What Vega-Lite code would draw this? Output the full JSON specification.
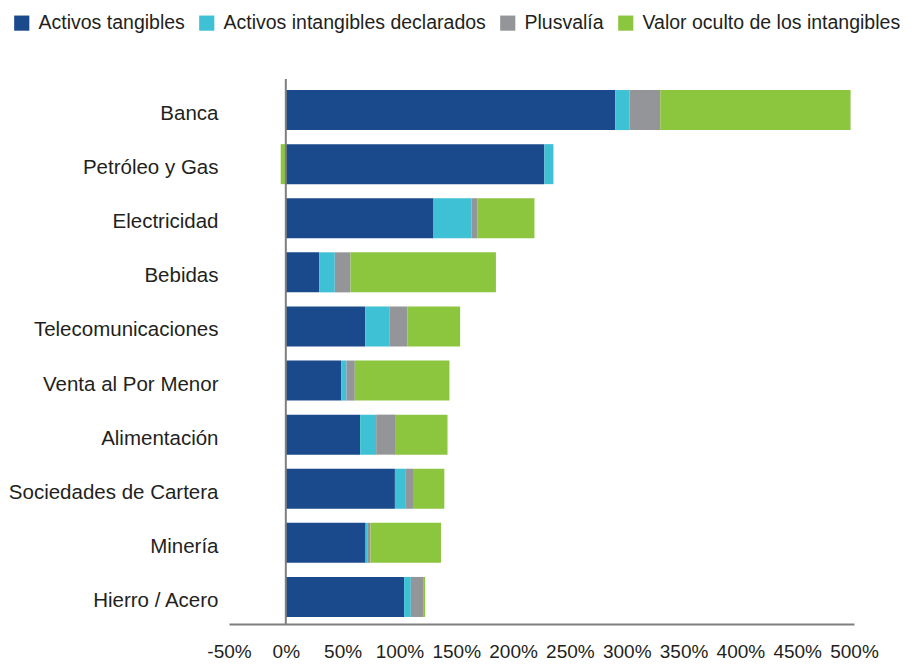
{
  "$schema": "https://vega.github.io/schema/vega-lite/v6.json",
  "width": 625,
  "height": 541,
  "autosize": "none",
  "padding": {"left": 229, "top": 83, "right": 62, "bottom": 40},
  "background": "white",
  "config": {
    "font": "Liberation Sans",
    "view": {"stroke": null}
  },
  "datasets": {
    "rows": [
      {"sector": "Banca", "tipo": "Activos tangibles", "k": 1, "v": 290},
      {"sector": "Banca", "tipo": "Activos intangibles declarados", "k": 2, "v": 12.5},
      {"sector": "Banca", "tipo": "Plusvalía", "k": 3, "v": 27},
      {"sector": "Banca", "tipo": "Valor oculto de los intangibles", "k": 4, "v": 167.5},
      {"sector": "Petróleo y Gas", "tipo": "Activos tangibles", "k": 1, "v": 227.5},
      {"sector": "Petróleo y Gas", "tipo": "Activos intangibles declarados", "k": 2, "v": 8},
      {"sector": "Petróleo y Gas", "tipo": "Plusvalía", "k": 3, "v": 0},
      {"sector": "Petróleo y Gas", "tipo": "Valor oculto de los intangibles", "k": 4, "v": -4.5},
      {"sector": "Electricidad", "tipo": "Activos tangibles", "k": 1, "v": 130},
      {"sector": "Electricidad", "tipo": "Activos intangibles declarados", "k": 2, "v": 33.5},
      {"sector": "Electricidad", "tipo": "Plusvalía", "k": 3, "v": 5.3},
      {"sector": "Electricidad", "tipo": "Valor oculto de los intangibles", "k": 4, "v": 50},
      {"sector": "Bebidas", "tipo": "Activos tangibles", "k": 1, "v": 29.3},
      {"sector": "Bebidas", "tipo": "Activos intangibles declarados", "k": 2, "v": 13.8},
      {"sector": "Bebidas", "tipo": "Plusvalía", "k": 3, "v": 13.8},
      {"sector": "Bebidas", "tipo": "Valor oculto de los intangibles", "k": 4, "v": 128},
      {"sector": "Telecomunicaciones", "tipo": "Activos tangibles", "k": 1, "v": 69.8},
      {"sector": "Telecomunicaciones", "tipo": "Activos intangibles declarados", "k": 2, "v": 21.7},
      {"sector": "Telecomunicaciones", "tipo": "Plusvalía", "k": 3, "v": 15.6},
      {"sector": "Telecomunicaciones", "tipo": "Valor oculto de los intangibles", "k": 4, "v": 46.3},
      {"sector": "Venta al Por Menor", "tipo": "Activos tangibles", "k": 1, "v": 48.7},
      {"sector": "Venta al Por Menor", "tipo": "Activos intangibles declarados", "k": 2, "v": 4.7},
      {"sector": "Venta al Por Menor", "tipo": "Plusvalía", "k": 3, "v": 7.3},
      {"sector": "Venta al Por Menor", "tipo": "Valor oculto de los intangibles", "k": 4, "v": 83.3},
      {"sector": "Alimentación", "tipo": "Activos tangibles", "k": 1, "v": 65.4},
      {"sector": "Alimentación", "tipo": "Activos intangibles declarados", "k": 2, "v": 14.1},
      {"sector": "Alimentación", "tipo": "Plusvalía", "k": 3, "v": 17.3},
      {"sector": "Alimentación", "tipo": "Valor oculto de los intangibles", "k": 4, "v": 45.5},
      {"sector": "Sociedades de Cartera", "tipo": "Activos tangibles", "k": 1, "v": 96},
      {"sector": "Sociedades de Cartera", "tipo": "Activos intangibles declarados", "k": 2, "v": 9.1},
      {"sector": "Sociedades de Cartera", "tipo": "Plusvalía", "k": 3, "v": 6.8},
      {"sector": "Sociedades de Cartera", "tipo": "Valor oculto de los intangibles", "k": 4, "v": 27.6},
      {"sector": "Minería", "tipo": "Activos tangibles", "k": 1, "v": 70.2},
      {"sector": "Minería", "tipo": "Activos intangibles declarados", "k": 2, "v": 2},
      {"sector": "Minería", "tipo": "Plusvalía", "k": 3, "v": 2.3},
      {"sector": "Minería", "tipo": "Valor oculto de los intangibles", "k": 4, "v": 62.1},
      {"sector": "Hierro / Acero", "tipo": "Activos tangibles", "k": 1, "v": 104.1},
      {"sector": "Hierro / Acero", "tipo": "Activos intangibles declarados", "k": 2, "v": 5.9},
      {"sector": "Hierro / Acero", "tipo": "Plusvalía", "k": 3, "v": 10.8},
      {"sector": "Hierro / Acero", "tipo": "Valor oculto de los intangibles", "k": 4, "v": 1.8}
    ],
    "zero": [{"x": 0}]
  },
  "layer": [
    {
      "data": {"name": "rows"},
      "mark": {"type": "bar"},
      "encoding": {
        "y": {
          "field": "sector",
          "type": "nominal",
          "sort": null,
          "scale": {"paddingInner": 0.26, "paddingOuter": 0.13},
          "axis": {
            "title": null,
            "domain": false,
            "ticks": false,
            "labelFontSize": 20.5,
            "labelColor": "#231f20",
            "labelPadding": 11,
            "labelOffset": 4,
            "labelLimit": 300
          }
        },
        "x": {
          "field": "v",
          "type": "quantitative",
          "stack": "zero",
          "scale": {"domain": [-50, 500], "nice": false, "zero": false},
          "axis": {
            "title": null,
            "values": [-50, 0, 50, 100, 150, 200, 250, 300, 350, 400, 450, 500],
            "labelExpr": "datum.value + '%'",
            "labelOverlap": false,
            "labelFlush": false,
            "labelBound": false,
            "grid": false,
            "ticks": false,
            "domainColor": "#7f7f7f",
            "domainWidth": 2,
            "labelFontSize": 19,
            "labelColor": "#231f20",
            "labelPadding": 18
          }
        },
        "color": {
          "field": "tipo",
          "type": "nominal",
          "scale": {
            "domain": ["Activos tangibles", "Activos intangibles declarados", "Plusvalía", "Valor oculto de los intangibles"],
            "range": ["#1a4a8c", "#3ec1d5", "#939598", "#8cc63f"]
          },
          "legend": {
            "title": null,
            "orient": "none",
            "direction": "horizontal",
            "legendX": -217,
            "legendY": -70,
            "symbolType": "square",
            "symbolSize": 230,
            "symbolStrokeWidth": 0,
            "labelFontSize": 19.5,
            "labelColor": "#231f20",
            "labelLimit": 400,
            "columnPadding": 12,
            "symbolOffset": 0,
            "labelOffset": 7
          }
        },
        "order": {"field": "k", "type": "quantitative"}
      }
    },
    {
      "data": {"name": "zero"},
      "mark": {"type": "rule", "color": "#7f7f7f", "strokeWidth": 2, "y": -4, "y2": 541},
      "encoding": {
        "x": {"field": "x", "type": "quantitative"}
      }
    }
  ]
}
